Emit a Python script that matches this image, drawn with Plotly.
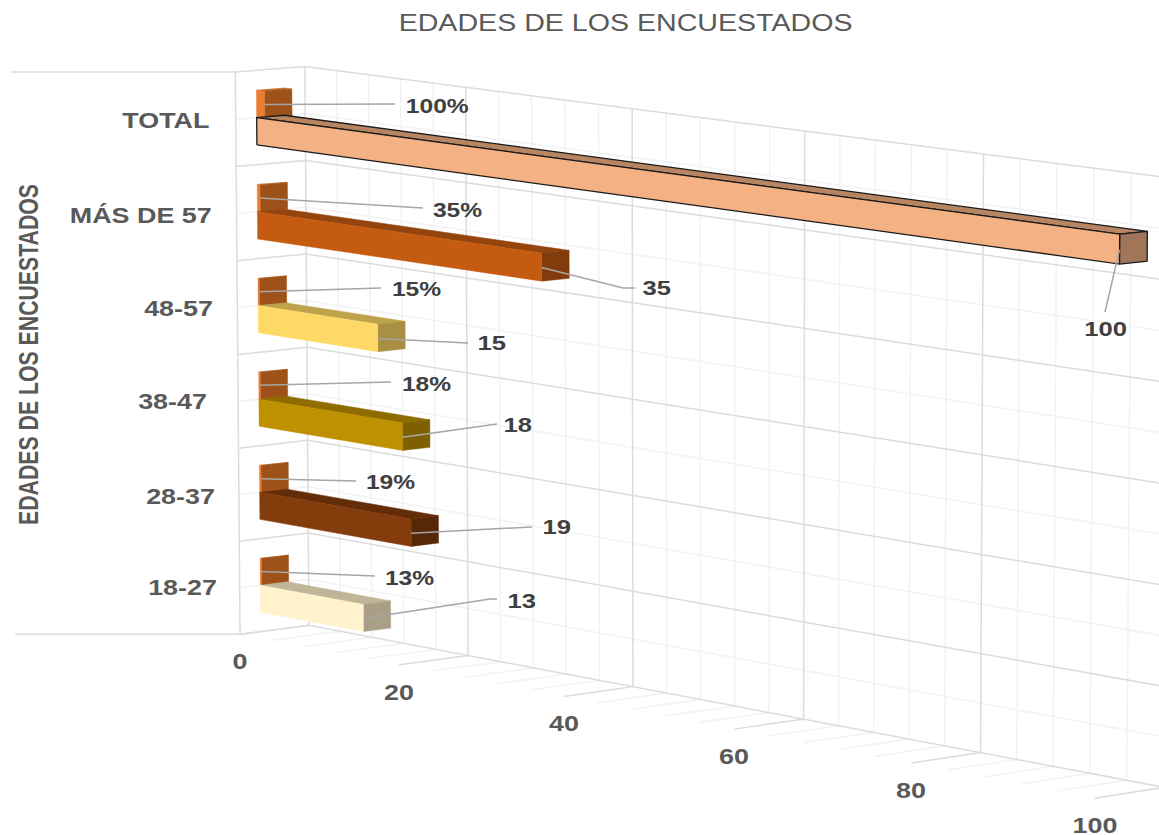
import numpy as np
import plotly.graph_objects as go

# ---- data ----
categorias = ["18-27", "28-37", "38-47", "48-57", "MÁS DE 57", "TOTAL"]
valores = [13, 19, 18, 15, 35, 100]
porcentajes = [0.13, 0.19, 0.18, 0.15, 0.35, 1.00]
etiquetas_pct = ["13%", "19%", "18%", "15%", "35%", "100%"]
ticks_valor = [0, 20, 40, 60, 80, 100]
titulo = "EDADES DE LOS ENCUESTADOS"

# ---- styles / placement ----
color_frente = ["#FFF2CC", "#843C0C", "#BF9000", "#FFD966", "#C55A11", "#F4B183"]
color_techo = ["#BFB699", "#632D09", "#8F6C00", "#BFA34C", "#94440D", "#B78562"]
color_fin = ["#A89F86", "#572808", "#7F6000", "#A88F43", "#823B0B", "#A1755A"]
TINTA = "#595959"
OSCURO = "#404040"
FUENTE = "Liberation Sans"

# perspective model of the chart box: (value, depth, category) -> page pixel
anclas = [
    ((0, 0, 0), (240, 634)), ((0, 0, 6), (235, 73)),
    ((40, 0, 0), (563, 696)), ((80, 0, 0), (912, 763)), ((100, 0, 0), (1095, 798)),
    ((0, 1, 0), (309, 625)), ((0, 1, 6), (305, 66)),
    ((40, 1, 0), (633, 687)), ((40, 1, 6), (632, 109)),
    ((80, 1, 0), (982, 753)), ((80, 1, 6), (985, 154)),
    ((100, 1, 0), (1162, 788)), ((100, 1, 6), (1168, 177)),
]
A, b = [], []
for (v, d, c), (u, w) in anclas:
    A.append([v, d, c, 1, 0, 0, 0, 0, -u * v, -u * d, -u * c]); b.append(u)
    A.append([0, 0, 0, 0, v, d, c, 1, -w * v, -w * d, -w * c]); b.append(w)
m = np.linalg.lstsq(np.array(A, float), np.array(b, float), rcond=None)[0]


def P(v, d, c):
    q = m[8] * v + m[9] * d + m[10] * c + 1
    return ((m[0] * v + m[1] * d + m[2] * c + m[3]) / q,
            (m[4] * v + m[5] * d + m[6] * c + m[7]) / q)


fig = go.Figure()


def lineas(segmentos, color, ancho):
    xs, ys = [], []
    for s in segmentos:
        for p in s:
            x, y = P(*p)
            xs.append(x); ys.append(y)
        xs.append(None); ys.append(None)
    fig.add_trace(go.Scatter(x=xs, y=ys, mode="lines", hoverinfo="skip", showlegend=False,
                             line=dict(color=color, width=ancho)))


def cara(puntos, relleno, borde=None, ancho=0.5):
    pts = [P(*p) for p in puntos]
    fig.add_trace(go.Scatter(x=[p[0] for p in pts] + [pts[0][0]], y=[p[1] for p in pts] + [pts[0][1]],
                             mode="lines", fill="toself", fillcolor=relleno, hoverinfo="skip",
                             showlegend=False, line=dict(color=borde or relleno, width=ancho)))


def caja(v, d0, d1, c0, c1, frente, techo, fin, borde=None, ancho=0.5):
    cara([(0, d0, c1), (0, d1, c1), (v, d1, c1), (v, d0, c1)], techo, borde, ancho)
    cara([(v, d0, c0), (v, d1, c0), (v, d1, c1), (v, d0, c1)], fin, borde, ancho)
    cara([(0, d0, c0), (v, d0, c0), (v, d0, c1), (0, d0, c1)], frente, borde, ancho)


# grid
n = len(categorias)
menores_v = [v for v in range(0, 101, 4) if v % 20]
medias_c = [i + 0.5 for i in range(n)]
menor = []
for v in menores_v:
    menor.append([(v, 0, 0), (v, 1, 0), (v, 1, n)])
for c in medias_c:
    menor.append([(0, 0, c), (0, 1, c), (100, 1, c)])
lineas(menor, "#F2F2F2", 1.5)
mayor = []
for v in ticks_valor:
    mayor.append([(v, 0, 0), (v, 1, 0), (v, 1, n)])
for c in range(n + 1):
    mayor.append([(0, 0, c), (0, 1, c), (100, 1, c)])
mayor.append([(0, 0, 0), (0, 0, n)])
lineas(mayor, "#DCDCDC", 1.5)

for c in (0, n):
    x, y = P(0, 0, c)
    fig.add_trace(go.Scatter(x=[x - 225, x], y=[y, y], mode="lines", hoverinfo="skip", showlegend=False,
                             line=dict(color="#DCDCDC", width=1.5)))

# bars
D0, D1 = 0.30, 0.695
for i in reversed(range(n)):
    caja(porcentajes[i], D0, D1, i + 0.5, i + 0.79, "#ED7D31", "#C0651F", "#9E5119")
    ne = categorias[i] == "TOTAL"
    caja(valores[i], D0, D1, i + 0.21, i + 0.5, color_frente[i], color_techo[i], color_fin[i],
         "#1A1A1A" if ne else None, 1.3 if ne else 0.5)

# data labels with leader lines (label centres in page pixels)
pos_pct = [(409, 577), (390, 481), (426, 383), (416, 288), (457, 209), (437, 105)]
fin_pct = [(375, 576), (356, 481), (391, 382), (381, 288), (423, 208), (395, 104)]
pos_val = [(521, 600), (556, 526), (518, 424), (492, 342), (657, 287), (1105, 328)]
fin_val = [[(490, 599), (497, 599)], [(532, 527)], [(497, 424)], [(468, 343)], [(623, 288), (635, 288)], [(1105, 312)]]
anot = []
for i in range(n):
    for inicio, tramo in ((P(porcentajes[i], D0, i + 0.65), [fin_pct[i]]),
                          (P(valores[i], D0, i + 0.35), fin_val[i])):
        pts = [inicio] + tramo
        fig.add_trace(go.Scatter(x=[p[0] for p in pts], y=[p[1] for p in pts], mode="lines",
                                 hoverinfo="skip", showlegend=False,
                                 line=dict(color="#A6A6A6", width=1.5)))
    anot.append(dict(x=pos_pct[i][0], y=pos_pct[i][1], text=etiquetas_pct[i],
                     font=dict(color=OSCURO, size=20.5)))
    anot.append(dict(x=pos_val[i][0], y=pos_val[i][1], text=str(valores[i]),
                     font=dict(color=OSCURO, size=21)))

# tick labels
pos_cat = [(182, 588), (180, 496.5), (172, 401.5), (178, 308.5), (141, 215), (166, 120.5)]
for i in range(n):
    anot.append(dict(x=pos_cat[i][0], y=pos_cat[i][1], text=categorias[i],
                     font=dict(color=TINTA, size=21.5)))
for v in ticks_valor:
    x, y = P(v, 0, 0)
    anot.append(dict(x=x, y=y + 28, text=str(v), font=dict(color=TINTA, size=21.5)))
for a in anot:
    a["font"].update(family=FUENTE, weight="bold")
    a.update(xref="x", yref="y", showarrow=False, xanchor="center", yanchor="middle")
anot.append(dict(x=625, y=23, text=titulo, xref="x", yref="y", showarrow=False,
                 font=dict(family=FUENTE, size=23, color=TINTA)))
anot.append(dict(x=28, y=355, text=titulo, xref="x", yref="y", showarrow=False, textangle=-90,
                 font=dict(family=FUENTE, size=28, color=TINTA, weight="bold")))

fig.update_layout(
    width=1159, height=835, margin=dict(l=0, r=0, t=0, b=0),
    paper_bgcolor="white", plot_bgcolor="white", showlegend=False,
    xaxis=dict(range=[0, 1159], visible=False, fixedrange=True),
    yaxis=dict(range=[835, 0], visible=False, fixedrange=True),
    annotations=anot,
)

# the reference's lettering is horizontally stretched; keep real text and stretch it the same way
ajuste = """
document.body.style.margin = '0';
var k = {'20.5': 1.2, '21': 1.22, '21.5': 1.25, '23': 1.243};
document.querySelectorAll('.annotation-text').forEach(function (t) {
  var s = String(parseFloat(t.style.fontSize));
  var largo = s === '28' ? 341 : (k[s] ? t.getComputedTextLength() * k[s] : 0);
  if (largo) {
    t.setAttribute('textLength', largo);
    t.setAttribute('lengthAdjust', 'spacingAndGlyphs');
  }
});
"""
fig.write_html("out.html", post_script=ajuste, config={"displayModeBar": False})
